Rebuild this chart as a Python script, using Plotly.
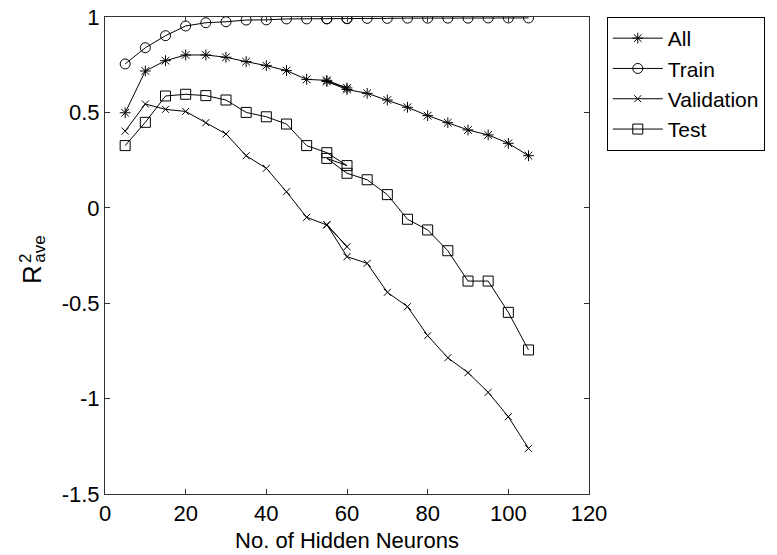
import plotly.graph_objects as go

# Number of hidden neurons (55 and 60 were each run twice)
neurons = [5, 10, 15, 20, 25, 30, 35, 40, 45, 50, 55, 60, 55, 60,
           65, 70, 75, 80, 85, 90, 95, 100, 105]

r2_all = [0.498, 0.717, 0.771, 0.801, 0.801, 0.789, 0.766, 0.745, 0.719, 0.673,
          0.668, 0.628, 0.662, 0.620, 0.600, 0.565, 0.527, 0.483, 0.446, 0.408,
          0.382, 0.338, 0.273]
r2_train = [0.754, 0.839, 0.902, 0.953, 0.970, 0.975, 0.984, 0.985, 0.990, 0.990,
            0.991, 0.992, 0.990, 0.991, 0.993, 0.993, 0.994, 0.994, 0.994, 0.994,
            0.995, 0.995, 0.995]
r2_val = [0.402, 0.544, 0.516, 0.505, 0.446, 0.387, 0.273, 0.207, 0.084, -0.050,
          -0.090, -0.204, -0.088, -0.256, -0.291, -0.443, -0.518, -0.670, -0.786,
          -0.864, -0.967, -1.095, -1.261]
r2_test = [0.326, 0.448, 0.586, 0.595, 0.588, 0.565, 0.500, 0.477, 0.439, 0.326,
           0.289, 0.221, 0.259, 0.181, 0.147, 0.069, -0.060, -0.116, -0.225,
           -0.384, -0.384, -0.548, -0.745]

series_names = ["All", "Train", "Validation", "Test"]

x_ticks = [0, 20, 40, 60, 80, 100, 120]
x_ticktext = ["0", "20", "40", "60", "80", "100", "120"]
y_ticks = [1, 0.5, 0, -0.5, -1, -1.5]
y_ticktext = ["1", "0.5", "0", "-0.5", "-1", "-1.5"]

W, H = 777, 555
ML, MR, MT, MB = 105, 182, 17, 61
FONT = "Liberation Sans, Arial, sans-serif"

fig = go.Figure()

styles = [
    (r2_all, "asterisk-open", 9),
    (r2_train, "circle-open", 10),
    (r2_val, "x-thin-open", 7),
    (r2_test, "square-open", 10),
]
for name, (vals, sym, size) in zip(series_names, styles):
    fig.add_trace(go.Scatter(
        x=neurons, y=vals, name=name, mode="lines+markers",
        line=dict(color="black", width=1),
        marker=dict(symbol=sym, size=size, color="black",
                    line=dict(color="black", width=1)),
    ))

axis_common = dict(
    showline=True, linecolor="#333333", linewidth=1, mirror="ticks",
    ticks="inside", ticklen=5, tickcolor="#333333", showgrid=False,
    zeroline=False, automargin=False,
    tickfont=dict(family=FONT, size=22, color="black"),
)
fig.update_xaxes(range=[0, 120], tickvals=x_ticks, ticktext=x_ticktext,
                 title=dict(text="No. of Hidden Neurons", standoff=7,
                            font=dict(family=FONT, size=22, color="black")),
                 **axis_common)
fig.update_yaxes(range=[-1.5, 1], tickvals=y_ticks, ticktext=y_ticktext,
                 **axis_common)

# y-axis label with stacked super/subscript
def px2paper(px, py):
    pw = W - ML - MR
    ph = H - MT - MB
    return (px - ML) / pw, (H - MB - py) / ph

lab = [("R", 31, 274, 26), ("2", 24, 258, 17), ("ave", 38, 249, 17)]
for txt, px, py, fs in lab:
    ax_, ay_ = px2paper(px, py)
    fig.add_annotation(text=txt, x=ax_, y=ay_, xref="paper", yref="paper",
                       xanchor="center", yanchor="middle",
                       showarrow=False, textangle=-90,
                       font=dict(family=FONT, size=fs, color="black"))

lx, ly = px2paper(613, 17)
fig.update_layout(
    width=W, height=H, autosize=False,
    margin=dict(l=ML, r=MR, t=MT, b=MB),
    paper_bgcolor="white", plot_bgcolor="white",
    showlegend=True,
    legend=dict(x=lx, y=ly, xanchor="left", yanchor="top",
                bordercolor="black", borderwidth=1, bgcolor="white",
                font=dict(family=FONT, size=21, color="black"),
                itemwidth=50, tracegroupgap=0),
)

fig.write_html("out.html")
